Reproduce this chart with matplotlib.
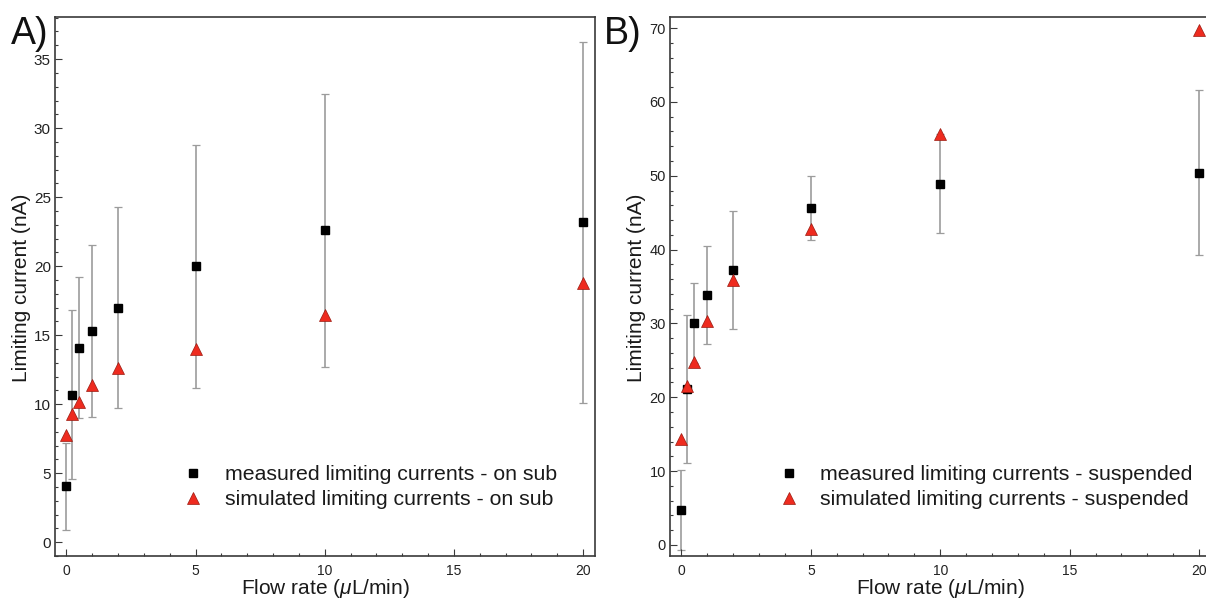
import matplotlib
matplotlib.use("Agg")
import matplotlib.pyplot as plt
from matplotlib.ticker import MultipleLocator

plt.rcParams["font.family"] = ["Liberation Sans", "DejaVu Sans"]
plt.rcParams["mathtext.fontset"] = "custom"
plt.rcParams["mathtext.rm"] = "Liberation Sans"
plt.rcParams["mathtext.it"] = "Liberation Sans:italic"

# Flow rates (uL/min)
flow = [0, 0.2, 0.5, 1, 2, 5, 10, 20]

# Panel A: electrode on substrate
meas_a = [4.05, 10.7, 14.1, 15.3, 17.0, 20.0, 22.6, 23.17]
err_a = [3.15, 6.1, 5.1, 6.2, 7.3, 8.8, 9.9, 13.1]
sim_a = [7.8, 9.3, 10.15, 11.4, 12.6, 14.0, 16.45, 18.8]

# Panel B: suspended electrode
meas_b = [4.7, 21.1, 30.05, 33.9, 37.25, 45.65, 48.9, 50.4]
err_b = [5.4, 10.0, 5.4, 6.65, 7.95, 4.37, 6.7, 11.2]
sim_b = [14.3, 21.5, 24.8, 30.3, 35.9, 42.85, 55.6, 69.8]

labels_a = ["measured limiting currents - on sub", "simulated limiting currents - on sub"]
labels_b = ["measured limiting currents - suspended", "simulated limiting currents - suspended"]

W, H = 1206, 600
fig = plt.figure(figsize=(W / 100, H / 100), dpi=100)

def px_axes(x0, x1, y0, y1):
    return fig.add_axes([x0 / W, 1 - y1 / H, (x1 - x0) / W, (y1 - y0) / H])

ax_a = px_axes(55, 595, 17, 556)
ax_b = px_axes(670, 1211, 17, 556)

spine_col = "#3a3a3a"
err_col = "#9c9c9c"
red = "#ee2b1f"

def draw(ax, meas, err, sim, labels, ylim, ymajor, yminor, ytick_fs, leg_x, hpad):
    ax.errorbar(flow, meas, yerr=err, fmt="none", ecolor=err_col, elinewidth=1.2,
                capsize=3, capthick=0.9, zorder=1)
    ax.plot(flow, meas, "s", color="black", ms=5.4, zorder=3, label=labels[0])
    ax.plot(flow, sim, "^", mfc=red, mec="#9a1a10", mew=0.5, ms=8.0, zorder=4,
            label=labels[1])
    ax.set_xlim(-0.44, 20.46)
    ax.set_ylim(*ylim)
    ax.xaxis.set_major_locator(MultipleLocator(5))
    ax.xaxis.set_minor_locator(MultipleLocator(1))
    ax.yaxis.set_major_locator(MultipleLocator(ymajor))
    ax.yaxis.set_minor_locator(MultipleLocator(yminor))
    ax.tick_params(which="both", direction="in", color=spine_col, width=0.8)
    ax.tick_params(which="major", length=5)
    ax.tick_params(which="minor", length=2.5)
    ax.tick_params(axis="x", which="major", labelsize=10, pad=6, labelcolor="#222222")
    ax.tick_params(axis="y", which="major", labelsize=ytick_fs, pad=3, labelcolor="#222222")
    for s in ax.spines.values():
        s.set_color(spine_col)
        s.set_linewidth(1.2)
    leg = ax.legend(loc="center left", bbox_to_anchor=(leg_x, 0.128), frameon=False,
                    fontsize=15.3, handlelength=1.0, handletextpad=hpad, borderpad=0,
                    borderaxespad=0, labelspacing=0.28)
    for t in leg.get_texts():
        t.set_color("#1a1a1a")

draw(ax_a, meas_a, err_a, sim_a, labels_a, (-1.0, 38.05), 5, 1, 11, 0.2363, 0.98)
draw(ax_b, meas_b, err_b, sim_b, labels_b, (-1.5, 71.5), 10, 2, 10.5, 0.2007, 0.93)

ylab = "Limiting current (nA)"
xlab = "Flow rate ($\\mu$L/min)"
fig.text(22 / W, 1 - 288 / H, ylab, rotation=90, ha="center", va="center", fontsize=15,
         color="#1a1a1a")
fig.text(636 / W, 1 - 288 / H, ylab, rotation=90, ha="center", va="center", fontsize=15,
         color="#1a1a1a")
fig.text(325 / W, 1 - 588 / H, xlab, ha="center", va="center", fontsize=15, color="#1a1a1a")
fig.text(940 / W, 1 - 588 / H, xlab, ha="center", va="center", fontsize=15, color="#1a1a1a")

fig.text(11 / W, 1 - 44 / H, "A)", ha="left", va="baseline", fontsize=27, color="#111111")
fig.text(604 / W, 1 - 44 / H, "B)", ha="left", va="baseline", fontsize=27, color="#111111")

fig.savefig("out.png", dpi=100)
